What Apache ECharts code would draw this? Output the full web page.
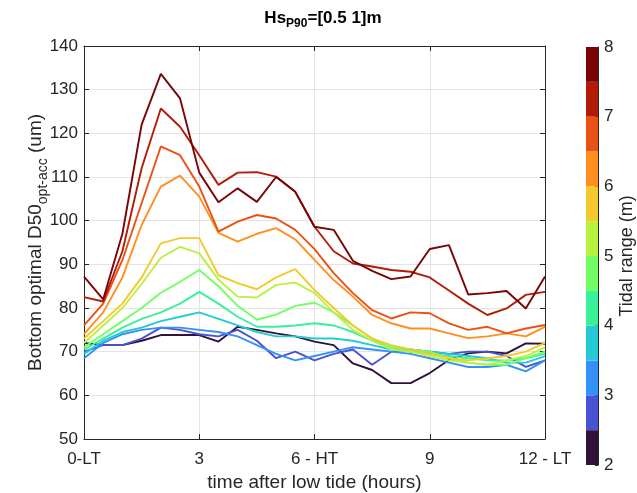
<!DOCTYPE html>
<html><head><meta charset="utf-8">
<script src="https://cdn.jsdelivr.net/npm/echarts@6/dist/echarts.min.js"></script>
<style>html,body{margin:0;padding:0;background:#fff}#c{width:637px;height:493px}</style>
</head><body><div id="c"></div>
<script>
// time after low tide (hours)
const hours = [0,0.5,1,1.5,2,2.5,3,3.5,4,4.5,5,5.5,6,6.5,7,7.5,8,8.5,9,9.5,10,10.5,11,11.5,12];
const xTicks = [0,3,6,9,12];
const xTickLabels = ['0-LT','3','6 - HT','9','12 - LT'];
const cbTicks = [2,3,4,5,6,7,8];
const cbBins = [2,2.5,3,3.5,4,4.5,5,5.5,6,6.5,7,7.5,8];
// tidal range of each curve (bin centre, m)
const tidalRange = [2.25,2.75,3.25,3.75,4.25,4.75,5.25,5.75,6.25,6.75,7.25,7.75];
// bottom optimal D50 (um), one array per tidal range
const d50_225 = [72,71.5,71.5,72.5,73.8,73.8,73.8,72.3,75.7,75,74.2,73.5,72.3,71.5,67.3,65.8,62.8,62.8,65.1,68.1,69.6,70,69.6,71.9,71.8];
const d50_275 = [70,71.5,71.5,73,75.5,75,74,73.5,75,72.5,68.5,70,68,69.5,70.5,67,70,70.5,70,69.5,70,70,69,66.5,68];
const d50_325 = [68.5,72,74,75,75.5,75.5,75,74.5,73.5,71.5,69.5,68,69,70,71,70.5,70,69.5,68.5,67.5,66.5,66.5,67,65.5,68];
const d50_375 = [69.5,72.5,74.5,75.5,77,78,79,77.5,76,74.5,73.5,73.5,73,73,72.5,71.5,70.5,70,70,69.5,69,68.5,67.5,67.5,69];
const d50_425 = [70.5,73,75.5,77.5,79,81,83.7,81,78,75.7,75.7,76,76.5,76,74.5,72.5,71,70,69.5,69,68.5,68,68,68.5,69.5];
const d50_475 = [71,74,77,80,83.5,86,88.7,85,80.5,77.3,78.5,80.5,81.2,79,76,73,71,70.5,70,68.5,67.5,67,67,68.5,70];
const d50_525 = [72,76,80,85.5,91.5,94,92.5,86.5,82.6,82.4,85.3,85.8,83.4,79,75,72.5,70.5,70,69,68,67.5,67,68,69,71];
const d50_575 = [73,77,81,87,94.8,96,96,87.5,85.7,84.3,87,88.9,84.1,80,76,73,71.5,70.5,69.5,68.5,68,68.5,69,70,72];
const d50_625 = [74,79,87,99,107.8,110.3,105.5,97.2,95.2,97,98.3,95.7,91,86.4,82.6,78.4,76.5,75.3,75.3,74.2,73.1,73.5,74.2,73.5,75.7];
const d50_675 = [76,81,91,104,117,115,107.8,97.5,99.8,101.3,100.5,97.9,93.5,88,83.4,79.5,77.6,79,78.8,76.5,75,75.7,74.2,75.3,76.1];
const d50_725 = [82.5,81.5,93,112,125.7,121.5,115,108.2,111,111.1,110.1,106.6,98.6,93,90.2,89.5,88.7,88.3,87,84,81,78.4,79.9,83,83.7];
const d50_775 = [87.2,82,97,122,133.6,128,111,104.2,107.4,104.3,110,106.6,98.6,97.9,90.8,88.5,86.6,87.2,93.5,94.4,83.1,83.4,83.9,79.9,87.2];
const allD50 = [d50_225,d50_275,d50_325,d50_375,d50_425,d50_475,d50_525,d50_575,d50_625,d50_675,d50_725,d50_775];

function turbo(t){
  const r = 0.13572138 + t*(4.61539260 + t*(-42.66032258 + t*(132.13108234 + t*(-152.94239396 + t*59.28637943))));
  const g = 0.09140261 + t*(2.19418839 + t*(4.84296658 + t*(-14.18503333 + t*(4.27729857 + t*2.82956604))));
  const b = 0.10667330 + t*(12.64194608 + t*(-60.58204836 + t*(110.36276771 + t*(-89.90310912 + t*27.34824973))));
  const c = v => Math.round(Math.max(0,Math.min(1,v))*255);
  return 'rgb('+c(r)+','+c(g)+','+c(b)+')';
}
const nBins = cbBins.length - 1;
const colors = [];
for (let i=0;i<nBins;i++) colors.push(turbo(i/(nBins-1)));
colors[0] = '#30123b';
colors[nBins-1] = '#7a0403';

const FONT = 'Liberation Sans, Arial, Helvetica, sans-serif';
const TXT = '#262626';
const series = [];
allD50.forEach((arr,i)=>{
  series.push({type:'line', xAxisIndex:0, yAxisIndex:0, data: hours.map((h,j)=>[h,arr[j]]),
    showSymbol:false, symbol:'none', silent:true, z:3,
    lineStyle:{color:colors[i], width:1.9}, itemStyle:{color:colors[i]}});
});
// invisible base so the colour bar starts at the first bin edge
series.push({type:'bar', xAxisIndex:2, yAxisIndex:2, stack:'cb', barWidth:'100%',
  data:[[0, cbBins[0]]], itemStyle:{color:'rgba(0,0,0,0)'}, silent:true});
for (let i=0;i<nBins;i++){
  series.push({type:'bar', xAxisIndex:2, yAxisIndex:2, stack:'cb', barWidth:'100%',
    data:[[0, cbBins[i+1]-cbBins[i]]], itemStyle:{color:colors[i]}, silent:true});
}

const chart = echarts.init(document.getElementById('c'), null, {renderer:'canvas'});
chart.setOption({
  animation:false,
  backgroundColor:'#fff',
  title:{text:'{b|Hs}{s|P90}{b|=[0.5 1]m}', left:318, top:5, textAlign:'center',
    textStyle:{rich:{
      b:{fontFamily:FONT,fontSize:17,fontWeight:'bold',color:'#000',verticalAlign:'top',lineHeight:20},
      s:{fontFamily:FONT,fontSize:12,fontWeight:'bold',color:'#000',verticalAlign:'bottom',padding:[11,0,0,0],lineHeight:20}}}},
  grid:[
    {left:84, right:92, top:46, bottom:54, show:false, containLabel:false, outerBoundsMode:'none'},
    {left:84, right:92, top:46, bottom:54, show:false, containLabel:false, outerBoundsMode:'none'},
    {left:586, width:12, top:47, height:418, show:false, containLabel:false, outerBoundsMode:'none'}
  ],
  xAxis:[
    {type:'value', gridIndex:0, min:0, max:12, interval:3, position:'bottom',
      axisLine:{show:true, onZero:false, lineStyle:{color:TXT,width:1}},
      axisTick:{show:true, inside:true, length:5, lineStyle:{color:TXT}},
      axisLabel:{color:TXT, fontFamily:FONT, fontSize:17, margin:12,
        formatter:v=>{const k=xTicks.indexOf(v);return k>=0?xTickLabels[k]:'';}},
      splitLine:{show:true, lineStyle:{color:'#e3e3e3', width:1}},
      name:'time after low tide (hours)', nameLocation:'middle', nameGap:33,
      nameTextStyle:{color:TXT, fontFamily:FONT, fontSize:19}},
    {type:'value', gridIndex:1, min:0, max:12, interval:3, position:'top',
      axisLine:{show:true, onZero:false, lineStyle:{color:TXT,width:1}},
      axisTick:{show:true, inside:true, length:5, lineStyle:{color:TXT}},
      axisLabel:{show:false}, splitLine:{show:false}},
    {type:'category', gridIndex:2, data:['cb'], show:false}
  ],
  yAxis:[
    {type:'value', gridIndex:0, min:50, max:140, interval:10, position:'left',
      axisLine:{show:true, onZero:false, lineStyle:{color:TXT,width:1}},
      axisTick:{show:true, inside:true, length:5, lineStyle:{color:TXT}},
      axisLabel:{color:TXT, fontFamily:FONT, fontSize:17, margin:6},
      splitLine:{show:true, lineStyle:{color:'#e3e3e3', width:1}},
      name:'{n|Bottom optimal D50}{s|opt-acc}{n| (um)}', nameLocation:'middle', nameGap:34, nameRotate:90,
      nameMoveOverlap:false,
      nameTextStyle:{rich:{
        n:{color:TXT, fontFamily:FONT, fontSize:19, verticalAlign:'top', lineHeight:24},
        s:{color:TXT, fontFamily:FONT, fontSize:14, verticalAlign:'bottom', padding:[12,0,0,0], lineHeight:24}}}},
    {type:'value', gridIndex:1, min:50, max:140, interval:10, position:'right',
      axisLine:{show:true, onZero:false, lineStyle:{color:TXT,width:1}},
      axisTick:{show:true, inside:true, length:5, lineStyle:{color:TXT}},
      axisLabel:{show:false}, splitLine:{show:false}},
    {type:'value', gridIndex:2, min:2, max:8, interval:1, position:'right',
      axisLine:{show:true, lineStyle:{color:TXT,width:1}},
      axisTick:{show:true, inside:true, length:3, lineStyle:{color:TXT}},
      axisLabel:{color:TXT, fontFamily:FONT, fontSize:17, margin:6},
      splitLine:{show:false},
      name:'Tidal range (m)', nameLocation:'middle', nameGap:20, nameRotate:90,
      nameTextStyle:{color:TXT, fontFamily:FONT, fontSize:18}}
  ],
  series: series
});
</script></body></html>
